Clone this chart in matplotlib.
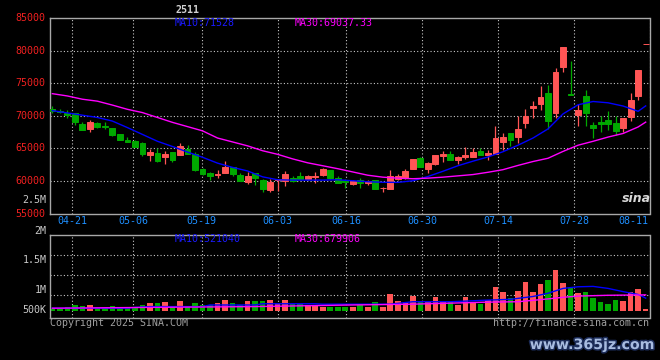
import matplotlib.pyplot as plt
import matplotlib.patheffects as pe

# ---------------- data ----------------
dates = ['04-21', '05-06', '05-19', '06-03', '06-16', '06-30', '07-14', '07-28', '08-11']
date_idx = [3, 11, 20, 30, 39, 49, 59, 69, 79]

open_ = [71100, 70750, 70400, 70400, 68700, 68000, 68970, 68450, 68100, 67180,
         66250, 66100, 65800, 63950, 64250, 63700, 64400, 64000, 64920, 64200,
         61840, 61230, 61000, 61280, 62140, 60970, 59900, 61170, 60150, 58630,
         60150, 59950, 60410, 60820, 60260, 60600, 60920, 61630, 60460, 60150,
         59600, 60100, 59640, 60100, 58900, 58820, 60360, 60510, 61800, 63550,
         61900, 62580, 63860, 64120, 63300, 63700, 63700, 64630, 64070, 64220,
         66050, 67430, 66820, 68970, 71180, 71850, 73540, 70510, 77440, 73350,
         70150, 73080, 68610, 69030, 69380, 68870, 68100, 69900, 72980, 81000]
high = [71540, 71000, 70900, 70500, 69000, 69330, 69100, 69000, 68200, 67200,
        66800, 66250, 66050, 64870, 65000, 64600, 64400, 65800, 65480, 64400,
        61940, 61330, 61700, 63060, 62200, 61230, 61380, 61280, 60300, 60250,
        60300, 61530, 60820, 61430, 60870, 61380, 62040, 61630, 60820, 60250,
        60200, 60510, 60100, 60200, 59100, 61650, 61030, 61800, 63350, 63700,
        62940, 64070, 64580, 64580, 63800, 65200, 65100, 65000, 64740, 68450,
        67430, 67430, 70000, 71080, 72300, 74620, 74770, 77390, 80620, 78460,
        71850, 74000, 69030, 70000, 70770, 70000, 69640, 73490, 77080, 81000]
low = [70510, 70500, 69700, 68600, 67800, 67540, 68200, 68000, 66900, 66250,
       66050, 65200, 63850, 63070, 63000, 62560, 62900, 63950, 64100, 61500,
       60920, 60150, 60400, 61170, 60800, 59950, 59540, 59390, 58320, 58320,
       58450, 59290, 59800, 60150, 60150, 59750, 60820, 60300, 59640, 59000,
       59330, 58970, 59330, 58820, 58300, 58800, 60100, 60250, 61800, 62100,
       61240, 62420, 62940, 63190, 62680, 63400, 63700, 63970, 63300, 64200,
       64770, 65380, 65900, 68100, 69740, 70920, 68000, 69640, 76670, 73230,
       68510, 68510, 66670, 67590, 67850, 67080, 67590, 69230, 72460, 81000]
close = [70800, 70650, 70200, 69100, 67850, 69130, 68360, 68350, 67070, 66300,
         66050, 65280, 64100, 64400, 63070, 64100, 63230, 65380, 64200, 61700,
         61070, 60820, 61100, 62140, 61020, 60000, 60770, 60510, 58780, 59800,
         60250, 61070, 60000, 60260, 60820, 60800, 61840, 60460, 59700, 59800,
         59950, 59740, 60050, 58820, 59000, 60720, 60820, 61550, 63350, 62110,
         62780, 63970, 64220, 63190, 63700, 63970, 64480, 63970, 64380, 66640,
         66820, 66300, 68000, 70000, 71440, 72920, 69280, 76770, 80620, 73230,
         70920, 70510, 68200, 68820, 68770, 67690, 69640, 72460, 77080, 81000]

# volume in millions (as drawn)
volume = [0.03, 0.03, 0.09, 0.14, 0.12, 0.14, 0.06, 0.06, 0.12, 0.07,
          0.09, 0.07, 0.14, 0.20, 0.19, 0.22, 0.09, 0.25, 0.08, 0.18,
          0.14, 0.14, 0.19, 0.26, 0.19, 0.14, 0.24, 0.24, 0.24, 0.26,
          0.18, 0.26, 0.16, 0.17, 0.14, 0.14, 0.10, 0.10, 0.08, 0.10,
          0.10, 0.14, 0.10, 0.22, 0.10, 0.41, 0.24, 0.22, 0.36, 0.24,
          0.22, 0.34, 0.22, 0.22, 0.14, 0.34, 0.22, 0.16, 0.26, 0.59,
          0.47, 0.31, 0.49, 0.72, 0.47, 0.66, 0.76, 1.01, 0.68, 0.58,
          0.43, 0.45, 0.32, 0.21, 0.17, 0.26, 0.25, 0.46, 0.54, 0.04]

# moving average lines (read at some candles)
ma10_x = [0, 2, 4, 6, 8, 10, 12, 14, 16, 18, 20, 22, 24, 26, 28, 30, 32, 34, 36, 38,
          40, 42, 44, 46, 48, 50, 52, 54, 56, 58, 60, 62, 64, 66, 68, 70, 72, 74, 76, 78, 79]
ma10 = [70800, 70450, 70100, 69750, 69200, 68200, 67150, 66100, 65300, 64450,
        63650, 62750, 62100, 61550, 60650, 60200, 60150, 60150, 60150, 60200,
        60050, 59900, 59820, 59800, 60050, 60700, 61500, 62350, 63050, 63700,
        64500, 65500, 66600, 68000, 70300, 71700, 72200, 72000, 71500, 70700, 71528]
ma30_x = [0, 2, 4, 6, 8, 10, 12, 14, 16, 18, 20, 22, 24, 26, 28, 30, 32, 34, 36, 38,
          40, 42, 44, 46, 48, 50, 52, 54, 56, 58, 60, 62, 64, 66, 68, 70, 72, 74, 76, 78, 79]
ma30 = [73400, 73050, 72550, 72250, 71650, 71000, 70500, 69750, 69000, 68350,
        67700, 66600, 66000, 65400, 64650, 64100, 63400, 62800, 62350, 61900,
        61400, 60900, 60600, 60450, 60360, 60450, 60600, 60800, 61000, 61350,
        61750, 62400, 63000, 63500, 64550, 65500, 66100, 66750, 67300, 68300, 69037]

vma10_x = [0, 10, 11, 13, 20, 21, 27, 28, 35, 36, 45, 48, 53, 58, 61, 64, 66, 68, 70, 72, 74, 76, 78, 79]
vma10 = [0.06, 0.06, 0.08, 0.10, 0.10, 0.14, 0.14, 0.17, 0.17, 0.16, 0.16, 0.22,
         0.22, 0.26, 0.28, 0.35, 0.43, 0.55, 0.59, 0.60, 0.55, 0.47, 0.40, 0.31]
vma30_x = [0, 13, 27, 40, 48, 58, 62, 66, 68, 70, 74, 79]
vma30 = [0.06, 0.08, 0.10, 0.14, 0.16, 0.21, 0.22, 0.29, 0.33, 0.36, 0.38, 0.39]

price_ticks = [55000, 60000, 65000, 70000, 75000, 80000, 85000]

# ---------------- style ----------------
W, H = 660, 360
RED, GREEN = '#ff5555', '#00a800'
GRID = '#c8c8c8'
FRAME = '#a8a8a8'
MONO = 'DejaVu Sans Mono'
FS = 7.2


def px(x, y):
    return x / W, 1 - y / H


fig = plt.figure(figsize=(W / 100, H / 100), dpi=100, facecolor='black')
ax = fig.add_axes([50 / W, 1 - 213.7 / H, 599.5 / W, 195.7 / H], facecolor='black')
axv = fig.add_axes([50 / W, 1 - 318.3 / H, 599.5 / W, 83.6 / H], facecolor='black')

n = len(close)
xs = list(range(n))
colors = [RED if c >= o else GREEN for o, c in zip(open_, close)]
# date gridlines sit a little right of the candle (sina spacing)
grid_x = [d * 1.0127 - 0.37 for d in date_idx]

for a in (ax, axv):
    a.set_xlim(-0.31, 79.51)
    a.set_xticks([])
    a.set_yticks([])
    for s in a.spines.values():
        s.set_color(FRAME)
        s.set_linewidth(1)
    for g in grid_x:
        a.axvline(g, color=GRID, lw=0.8, ls=(0, (1, 2)), zorder=0)

############################# PRICE PANEL #############################
ax.set_ylim(55000, 85000)
for p in price_ticks[1:-1]:
    ax.axhline(p, color=GRID, lw=0.8, ls=(0, (1, 2)), zorder=0)

ax.vlines(xs, low, high, colors=colors, lw=0.9, zorder=2)
bottoms = [min(o, c) for o, c in zip(open_, close)]
heights = [abs(c - o) for o, c in zip(open_, close)]
ax.bar(xs, heights, bottom=bottoms, width=0.78, color=colors, edgecolor=colors,
       linewidth=0.7, zorder=3)

ax.plot(ma10_x, ma10, color='#0000ff', lw=1.0, zorder=4)
ax.plot(ma30_x, ma30, color='#ff00ff', lw=1.0, zorder=4)

for p in price_ticks:
    ax.text(-0.008, p, str(p), transform=ax.get_yaxis_transform(), ha='right', va='center',
            color='#f02020', fontsize=FS, family=MONO, clip_on=False)

for d, g in zip(dates, grid_x):
    if g < 79:
        ax.text(g, -0.037, d, transform=ax.get_xaxis_transform(), ha='center', va='center',
                color='#1e8fff', fontsize=FS, family=MONO, clip_on=False)
    else:
        ax.text(79.4, -0.037, d, transform=ax.get_xaxis_transform(), ha='right', va='center',
                color='#1e8fff', fontsize=FS, family=MONO, clip_on=False)

############################# VOLUME PANEL #############################
axv.set_ylim(-0.19, 1.88)
for k in (1, 2, 3):
    axv.axhline(1.88 - 0.5 * k, color=GRID, lw=0.8, ls=(0, (1, 2)), zorder=0)

axv.bar(xs, volume, width=0.75, color=colors, linewidth=0, zorder=2)
axv.plot(vma10_x, vma10, color='#0000ff', lw=1.0, zorder=3)
axv.plot(vma30_x, vma30, color='#ff00ff', lw=1.0, zorder=3)

for lab, y in [('2.5M', 200), ('2M', 230.7), ('1.5M', 260), ('1M', 290), ('500K', 310)]:
    fig.text(*px(46.5, y), lab, ha='right', va='center', color=GRID, fontsize=FS, family=MONO)

############################# TEXTS #############################
fig.text(*px(188, 10), '2511', ha='center', va='center', color='#d0d0d0', fontsize=FS,
         family=MONO, weight='bold')
fig.text(*px(175, 23), 'MA10:71528', va='center', color='#1a1aff', fontsize=FS, family=MONO)
fig.text(*px(295, 23), 'MA30:69037.33', va='center', color='#ff00ff', fontsize=FS, family=MONO)
fig.text(*px(175, 238.5), 'MA10:521040', va='center', color='#1a1aff', fontsize=FS, family=MONO)
fig.text(*px(295, 238.5), 'MA30:679906', va='center', color='#ff00ff', fontsize=FS, family=MONO)

fig.text(*px(50, 323.5), 'Copyright 2025 SINA.COM', va='center', color='#a0a0a0',
         fontsize=FS, family=MONO)
fig.text(*px(649, 323.5), 'http://finance.sina.com.cn', ha='right', va='center',
         color='#a0a0a0', fontsize=FS, family=MONO)

fig.text(*px(636, 198), 'sina', ha='center', va='center', color='#d8d8d8', fontsize=9,
         style='italic', weight='bold')
fig.text(*px(592, 345), 'www.365jz.com', ha='center', va='center', color='#a8bce0',
         fontsize=10.2, weight='bold',
         path_effects=[pe.withStroke(linewidth=2.2, foreground='#1c2c58')])

plt.savefig('out.png', dpi=100, facecolor='black')
